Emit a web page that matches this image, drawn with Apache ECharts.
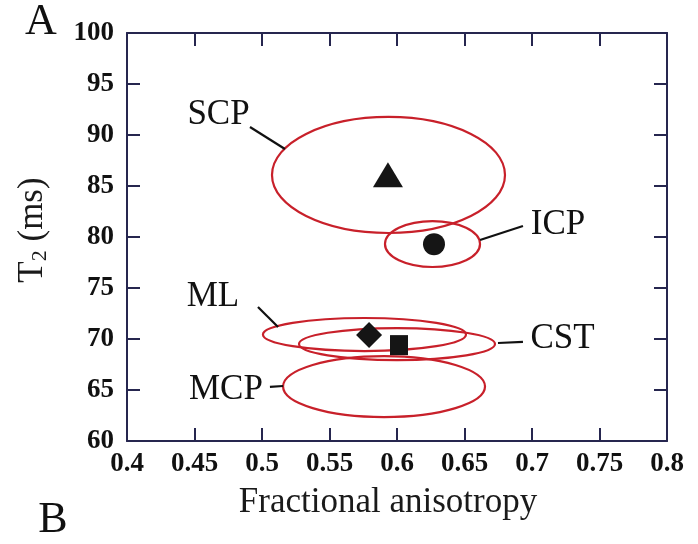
<!DOCTYPE html>
<html>
<head>
<meta charset="utf-8">
<script src="https://cdn.jsdelivr.net/npm/echarts@6/dist/echarts.min.js"></script>
<style>
  html, body { margin: 0; padding: 0; background: #fff; }
  #chart { width: 698px; height: 544px; }
</style>
</head>
<body>
<div id="chart"></div>
<script>
// ---- data ----
const regions = ['SCP', 'ICP', 'ML', 'CST', 'MCP'];
// ellipse centres and semi-axes
const ellipseFA = [0.5937, 0.6263, 0.5759, 0.6000, 0.5904];
const ellipseT2 = [86.08, 79.31, 70.44, 69.50, 65.34];
const ellipseHalfFA = [0.0863, 0.0352, 0.0752, 0.0726, 0.0748];
const ellipseHalfT2 = [5.69, 2.25, 1.62, 1.57, 2.99];
// mean points
const meanFA = [0.5933, 0.6274, 0.5793, 0.6015, 0.5880];
const meanT2 = [86.1, 79.3, 70.4, 69.4, 65.3];
// label annotation anchors: [textFA, textT2, lineFA1, lineT21, lineFA2, lineT22]
const labelText = ['SCP', 'ICP', 'ML', 'CST', 'MCP'];
const labelAnchor = [
  [0.4678, 91.96, 0.4911, 90.78, 0.5170, 88.63],
  [0.7193, 81.23, 0.6615, 79.71, 0.6933, 81.08],
  [0.4637, 74.12, 0.4970, 73.14, 0.5119, 71.18],
  [0.7226, 70.00, 0.6748, 69.61, 0.6933, 69.71],
  [0.4733, 65.00, 0.5059, 65.30, 0.5156, 65.39]
];
const xTicks = ['0.4', '0.45', '0.5', '0.55', '0.6', '0.65', '0.7', '0.75', '0.8'];
const yTicks = ['60', '65', '70', '75', '80', '85', '90', '95', '100'];

// ---- chart ----
const serif = '"Liberation Serif", "Times New Roman", serif';
const axisColor = '#26264f';
const red = '#c8202a';
const symbols = ['triangle', 'circle', 'diamond', 'rect', 'emptyCircle'];
const symbolSizes = [[30, 25], 22, 26, [18, 20], 17];

const chart = echarts.init(document.getElementById('chart'));

const commonAxis = {
  axisLine: { show: true, lineStyle: { color: axisColor, width: 2 } },
  axisTick: { show: true, inside: true, length: 13, lineStyle: { color: axisColor, width: 2 } },
  splitLine: { show: false }
};

const option = {
  animation: false,
  backgroundColor: '#fff',
  grid: { left: 127, right: 31, top: 33, bottom: 103, show: false },
  xAxis: [
    Object.assign({
      type: 'value', min: 0.4, max: 0.8, interval: 0.05, position: 'bottom',
      name: 'Fractional anisotropy', nameLocation: 'middle', nameGap: 44,
      nameTextStyle: { fontFamily: serif, fontSize: 35, color: '#1a1a1a', padding: [0, 18, 0, 0] },
      axisLabel: {
        fontFamily: serif, fontWeight: 'bold', fontSize: 27, color: '#111', margin: 10,
        formatter: (v) => xTicks[Math.round((v - 0.4) / 0.05)]
      }
    }, commonAxis),
    Object.assign({
      type: 'value', min: 0.4, max: 0.8, interval: 0.05, position: 'top',
      axisLabel: { show: false }
    }, commonAxis)
  ],
  yAxis: [
    Object.assign({
      type: 'value', min: 60, max: 100, interval: 5, position: 'left',
      name: 'T{sub|2} (ms)', nameLocation: 'middle', nameGap: 76,
      nameTextStyle: {
        fontFamily: serif, fontSize: 35, color: '#1a1a1a', padding: [0, 0, 0, 14],
        rich: { sub: { fontFamily: serif, fontSize: 22, verticalAlign: 'bottom', padding: [14, 0, 0, 0] } }
      },
      axisLabel: {
        fontFamily: serif, fontWeight: 'bold', fontSize: 27, color: '#111', margin: 13,
        formatter: (v) => yTicks[Math.round((v - 60) / 5)]
      }
    }, commonAxis),
    Object.assign({
      type: 'value', min: 60, max: 100, interval: 5, position: 'right',
      axisLabel: { show: false }
    }, commonAxis)
  ],
  series: [
    {
      type: 'custom',
      name: 'ellipses',
      xAxisIndex: 0, yAxisIndex: 0,
      data: regions.map((r, i) => [ellipseFA[i], ellipseT2[i], ellipseHalfFA[i], ellipseHalfT2[i]]),
      renderItem: function (params, api) {
        const c = api.coord([api.value(0), api.value(1)]);
        const s = api.size([api.value(2), api.value(3)]);
        return {
          type: 'ellipse',
          shape: { cx: c[0], cy: c[1], rx: s[0], ry: s[1] },
          style: { fill: 'none', stroke: red, lineWidth: 2.2 }
        };
      },
      z: 2
    },
    {
      type: 'custom',
      name: 'labels',
      xAxisIndex: 0, yAxisIndex: 0,
      data: labelAnchor.map((a) => a.slice()),
      renderItem: function (params, api) {
        const t = api.coord([api.value(0), api.value(1)]);
        const p1 = api.coord([api.value(2), api.value(3)]);
        const p2 = api.coord([api.value(4), api.value(5)]);
        return {
          type: 'group',
          children: [
            { type: 'line', shape: { x1: p1[0], y1: p1[1], x2: p2[0], y2: p2[1] },
              style: { stroke: '#111', lineWidth: 2.2 } },
            { type: 'text', x: t[0], y: t[1],
              style: { text: labelText[params.dataIndex], fontFamily: serif, fontSize: 35,
                       fill: '#111', align: 'center', verticalAlign: 'middle' } }
          ]
        };
      },
      z: 3
    },
    ...regions.map((r, i) => ({
      type: 'scatter',
      name: r,
      xAxisIndex: 0, yAxisIndex: 0,
      data: [[meanFA[i], meanT2[i]]],
      symbol: symbols[i],
      symbolSize: symbolSizes[i],
      itemStyle: i === 4
        ? { color: '#fff', borderColor: '#111', borderWidth: 3.5, opacity: 1 }
        : { color: '#151515', opacity: 1 },
      z: 4
    }))
  ],
  graphic: [
    { type: 'text', x: 41, y: 22, style: { text: 'A', fontFamily: serif, fontSize: 44, fill: '#111', align: 'center', verticalAlign: 'middle' } },
    { type: 'text', x: 53, y: 520, style: { text: 'B', fontFamily: serif, fontSize: 44, fill: '#111', align: 'center', verticalAlign: 'middle' } }
  ]
};

chart.setOption(option);
</script>
</body>
</html>
